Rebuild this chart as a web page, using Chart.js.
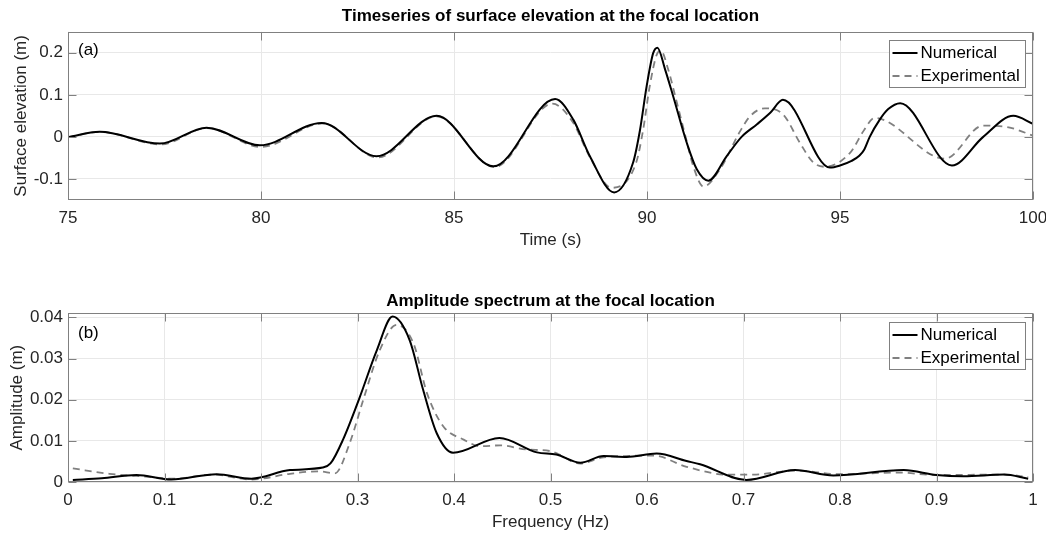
<!DOCTYPE html>
<html>
<head>
<meta charset="utf-8">
<script src="https://cdn.jsdelivr.net/npm/chart.js@4.4.1/dist/chart.umd.min.js"></script>
<style>
  html, body { margin: 0; padding: 0; background: #ffffff; }
  #wrap { position: relative; width: 1046px; height: 534px; overflow: hidden; }
  #wrap canvas { position: absolute; left: 0; }
</style>
</head>
<body>
<div id="wrap">
  <canvas id="elevChart" width="1046" height="267" style="top:0px"></canvas>
  <canvas id="specChart" width="1046" height="267" style="top:267px"></canvas>
</div>
<script>
// Surface elevation at the focal location: time (s) and elevation (m)
const timeNum = [75.0, 75.82, 77.38, 78.59, 79.97, 81.57, 82.99, 84.55, 86.02, 87.62, 88.09, 88.52, 89.15, 89.64, 89.82, 89.99, 90.16, 90.27, 90.47, 90.68, 91.03, 91.29, 91.59, 92.07, 92.45, 92.85, 93.2, 93.52, 94.74, 95.0, 95.3, 95.5, 95.63, 95.77, 96.03, 96.25, 96.56, 97.9, 98.71, 99.49, 100.0];
const elevNum = [-0.001, 0.012, -0.016, 0.022, -0.020, 0.033, -0.046, 0.050, -0.070, 0.090, 0.041, -0.046, -0.132, -0.061, 0.017, 0.12, 0.199, 0.212, 0.16, 0.096, -0.014, -0.077, -0.104, -0.045, 0.0, 0.03, 0.058, 0.088, -0.073, -0.068, -0.057, -0.045, -0.030, 0.0, 0.041, 0.066, 0.080, -0.068, 0.0, 0.050, 0.031];
const timeExp = [75.0, 75.82, 77.4, 78.6, 80.0, 81.6, 83.02, 84.55, 86.05, 87.55, 88.07, 88.52, 89.08, 89.72, 89.9, 90.07, 90.25, 90.36, 90.55, 90.75, 91.0, 91.2, 91.46, 91.89, 92.41, 92.67, 93.05, 93.53, 93.96, 94.31, 94.61, 95.26, 95.63, 95.89, 97.72, 98.71, 99.4, 100.0];
const elevExp = [-0.001, 0.012, -0.018, 0.021, -0.024, 0.032, -0.049, 0.049, -0.072, 0.079, 0.036, -0.048, -0.121, -0.061, 0.017, 0.12, 0.195, 0.205, 0.16, 0.09, 0.0, -0.07, -0.118, -0.077, 0.013, 0.049, 0.068, 0.053, -0.014, -0.061, -0.071, -0.038, 0.017, 0.045, -0.052, 0.027, 0.022, 0.003];

// Amplitude spectrum at the focal location: frequency (Hz) and amplitude (m)
const freqNum = [0.005, 0.035, 0.071, 0.107, 0.154, 0.19, 0.23, 0.264, 0.272, 0.285, 0.302, 0.32, 0.3364, 0.354, 0.368, 0.382, 0.399, 0.447, 0.486, 0.506, 0.531, 0.555, 0.579, 0.61, 0.641, 0.655, 0.703, 0.7535, 0.793, 0.866, 0.9, 0.928, 0.97, 0.995];
const ampNum = [0.0005, 0.0009, 0.0017, 0.0006, 0.0019, 0.0008, 0.0029, 0.0035, 0.0045, 0.0103, 0.0204, 0.032, 0.0402, 0.0345, 0.0224, 0.0119, 0.0071, 0.0107, 0.0072, 0.0067, 0.0047, 0.0063, 0.0061, 0.0069, 0.0051, 0.0043, 0.0005, 0.0029, 0.0016, 0.0029, 0.0017, 0.0014, 0.0018, 0.0008];
const freqExp = [0.005, 0.043, 0.08, 0.11, 0.15, 0.19, 0.23, 0.26, 0.2766, 0.292, 0.306, 0.323, 0.3405, 0.358, 0.372, 0.389, 0.41, 0.427, 0.448, 0.475, 0.5, 0.531, 0.555, 0.607, 0.641, 0.683, 0.71, 0.753, 0.8, 0.86, 0.9, 0.97, 0.995];
const ampExp = [0.0033, 0.002, 0.0013, 0.0008, 0.0018, 0.0006, 0.002, 0.0026, 0.0021, 0.0095, 0.020, 0.032, 0.0382, 0.0337, 0.0216, 0.0135, 0.0103, 0.0087, 0.0089, 0.0079, 0.0075, 0.0045, 0.006, 0.0064, 0.0037, 0.0018, 0.0018, 0.0028, 0.0019, 0.0023, 0.0017, 0.0018, 0.0012];

// Tick positions and labels
const timeTicks = [75, 80, 85, 90, 95, 100];
const timeTickLabels = ['75', '80', '85', '90', '95', '100'];
const elevTicks = [-0.1, 0, 0.1, 0.2];
const elevTickLabels = ['-0.1', '0', '0.1', '0.2'];
const freqTicks = [0, 0.1, 0.2, 0.3, 0.4, 0.5, 0.6, 0.7, 0.8, 0.9, 1];
const freqTickLabels = ['0', '0.1', '0.2', '0.3', '0.4', '0.5', '0.6', '0.7', '0.8', '0.9', '1'];
const ampTicks = [0, 0.01, 0.02, 0.03, 0.04];
const ampTickLabels = ['0', '0.01', '0.02', '0.03', '0.04'];

const seriesNames = ['Numerical', 'Experimental'];

const FONT = "'Liberation Sans', Arial, Helvetica, sans-serif";
Chart.defaults.font.family = FONT;
Chart.defaults.font.size = 17;
Chart.defaults.color = '#262626';

const AXIS_COLOR = '#808080';
const GRID_COLOR = '#e8e8e8';

// Box around the axes, inward tick marks, panel tag and the legend
const framePlugin = {
  id: 'frame',
  afterDatasetsDraw(chart, args, o) {
    const { ctx, chartArea: a, scales: { x, y } } = chart;
    const L = Math.round(a.left) + 0.5, R = Math.round(a.right) - 0.5;
    const T = Math.round(a.top) + 0.5, B = Math.round(a.bottom) - 0.5;
    ctx.save();
    ctx.strokeStyle = AXIS_COLOR;
    ctx.lineWidth = 1;
    ctx.beginPath();
    x.ticks.forEach(t => {
      const px = Math.round(x.getPixelForValue(t.value)) + 0.5;
      ctx.moveTo(px, T); ctx.lineTo(px, T + o.tick);
      ctx.moveTo(px, B); ctx.lineTo(px, B - o.tick);
    });
    y.ticks.forEach(t => {
      const py = Math.round(y.getPixelForValue(t.value)) + 0.5;
      ctx.moveTo(L, py); ctx.lineTo(L + o.tick, py);
      ctx.moveTo(R, py); ctx.lineTo(R - o.tick, py);
    });
    ctx.stroke();
    ctx.strokeRect(L, T, R - L, B - T);

    ctx.fillStyle = '#000000';
    ctx.font = '17px ' + FONT;
    ctx.textAlign = 'left';
    ctx.textBaseline = 'middle';
    ctx.fillText(o.tag, a.left + 10, a.top + o.tagDy);

    // legend
    const w = 136, h = 47;
    const bx = Math.round(a.right - 8.5 - w) + 0.5, by = Math.round(a.top + 8.6) + 0.5;
    ctx.fillStyle = '#ffffff';
    ctx.fillRect(bx, by, w, h);
    ctx.strokeStyle = AXIS_COLOR;
    ctx.strokeRect(bx, by, w, h);
    chart.data.datasets.forEach((ds, i) => {
      const cy = by + 12.5 + i * 23;
      ctx.beginPath();
      ctx.strokeStyle = ds.borderColor;
      ctx.lineWidth = ds.borderWidth;
      ctx.setLineDash(ds.borderDash || []);
      ctx.moveTo(bx + 3, cy);
      ctx.lineTo(bx + 28, cy);
      ctx.stroke();
      ctx.setLineDash([]);
      ctx.fillStyle = '#000000';
      ctx.fillText(ds.label, bx + 31, cy);
    });
    ctx.restore();
  }
};

function pts(xs, ys) { return xs.map((v, i) => ({ x: v, y: ys[i] })); }

function buildChart(id, cfg) {
  return new Chart(document.getElementById(id), {
    type: 'line',
    data: {
      datasets: [
        { label: seriesNames[0], data: pts(cfg.xNum, cfg.yNum), borderColor: '#000000', borderWidth: 2,
          pointRadius: 0, cubicInterpolationMode: 'monotone', fill: false, clip: 0 },
        { label: seriesNames[1], data: pts(cfg.xExp, cfg.yExp), borderColor: '#808080', borderWidth: 1.8,
          borderDash: [7, 5], pointRadius: 0, cubicInterpolationMode: 'monotone', fill: false, clip: 0 }
      ]
    },
    options: {
      responsive: false,
      animation: false,
      devicePixelRatio: 1,
      layout: { padding: { left: 0, right: 13, top: 0, bottom: 0 } },
      plugins: {
        legend: { display: false },
        tooltip: { enabled: false },
        title: {
          display: true, text: cfg.title, color: '#000000', fullSize: false,
          font: { size: 17, weight: 'bold' },
          padding: cfg.titlePad
        },
        frame: { tag: cfg.tag, tagDy: cfg.tagDy, tick: 8 }
      },
      scales: {
        x: {
          type: 'linear', min: cfg.xMin, max: cfg.xMax,
          afterBuildTicks: s => { s.ticks = cfg.xTicks.map(v => ({ value: v })); },
          afterFit: s => { s.height = cfg.xAxisHeight; s.paddingLeft = 0; s.paddingRight = 0; },
          ticks: { autoSkip: false, maxRotation: 0, padding: 8, color: '#262626',
                   callback: (v, i) => cfg.xLabels[i] },
          grid: { color: GRID_COLOR, drawTicks: false },
          border: { display: false },
          title: { display: true, text: cfg.xTitle, color: '#262626', padding: { top: 4, bottom: cfg.xTitlePad } }
        },
        y: {
          type: 'linear', min: cfg.yMin, max: cfg.yMax,
          afterBuildTicks: s => { s.ticks = cfg.yTicks.map(v => ({ value: v })); },
          afterFit: s => { s.width = 68; s.paddingTop = 0; s.paddingBottom = 0; },
          ticks: { autoSkip: false, padding: 5, color: '#262626',
                   callback: (v, i) => cfg.yLabels[i] },
          grid: { color: GRID_COLOR, drawTicks: false },
          border: { display: false },
          title: { display: true, text: cfg.yTitle, color: '#262626', padding: { top: cfg.yTitlePad, bottom: 0 } }
        }
      }
    },
    plugins: [framePlugin]
  });
}

buildChart('elevChart', {
  title: 'Timeseries of surface elevation at the focal location',
  titlePad: { top: 5.8, bottom: 5.5 },
  tag: '(a)', tagDy: 19,
  xNum: timeNum, yNum: elevNum, xExp: timeExp, yExp: elevExp,
  xMin: 75, xMax: 100, xTicks: timeTicks, xLabels: timeTickLabels,
  yMin: -0.15, yMax: 0.25, yTicks: elevTicks, yLabels: elevTickLabels,
  xAxisHeight: 67, xTitle: 'Time (s)', xTitlePad: 16.3,
  yTitle: 'Surface elevation (m)', yTitlePad: 11
});

buildChart('specChart', {
  title: 'Amplitude spectrum at the focal location',
  titlePad: { top: 24, bottom: 1.9 },
  tag: '(b)', tagDy: 20,
  xNum: freqNum, yNum: ampNum, xExp: freqExp, yExp: ampExp,
  xMin: 0, xMax: 1, xTicks: freqTicks, xLabels: freqTickLabels,
  yMin: 0, yMax: 0.041, yTicks: ampTicks, yLabels: ampTickLabels,
  xAxisHeight: 52, xTitle: 'Frequency (Hz)', xTitlePad: 1.3,
  yTitle: 'Amplitude (m)', yTitlePad: 7.3
});
</script>
</body>
</html>
